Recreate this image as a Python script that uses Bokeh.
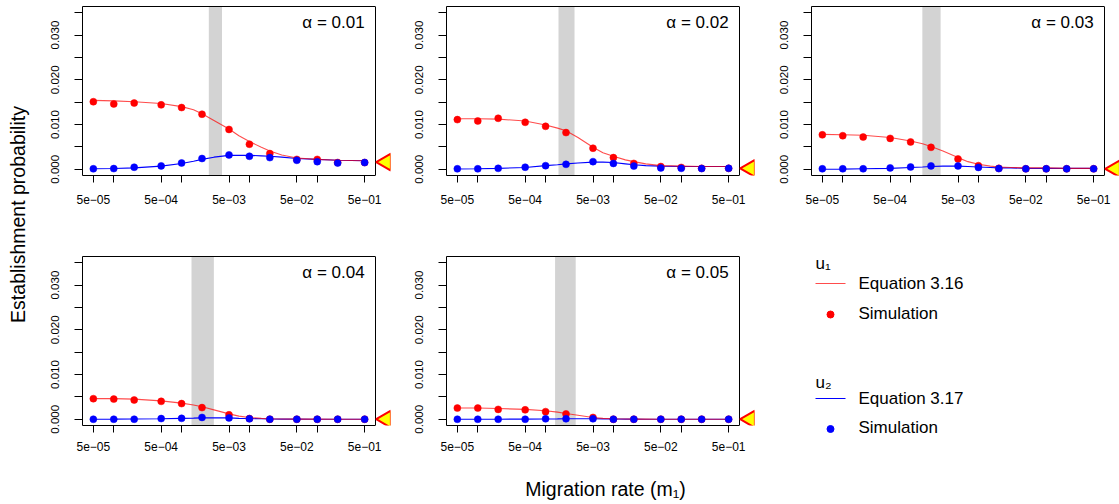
import math
from bokeh.plotting import figure
from bokeh.models import Range1d, FixedTicker, CustomJSTickFormatter, LinearAxis
from bokeh.layouts import row, column
from bokeh.core.properties import value
from bokeh.embed import file_html
from bokeh.resources import INLINE

FONT = "Liberation Sans"

# ---------------- data ----------------
ALPHA_LABELS = ["α = 0.01", "α = 0.02", "α = 0.03", "α = 0.04", "α = 0.05"]

X_TICKS = [5e-5, 1e-4, 5e-4, 1e-3, 5e-3, 1e-2, 5e-2, 1e-1, 5e-1]
X_TICK_LABELS = ["5e\u221205", "", "5e\u221204", "", "5e\u221203", "", "5e\u221202", "", "5e\u221201"]
Y_TICKS = [0.0, 0.005, 0.010, 0.015, 0.020, 0.025, 0.030, 0.035]
Y_TICK_LABELS = ["0.000", "", "0.010", "", "0.020", "", "0.030", ""]

# simulation migration rates
SIM_X = [5e-5, 1e-4, 2e-4, 5e-4, 1e-3, 2e-3, 5e-3, 1e-2, 2e-2, 5e-2, 1e-1, 2e-1, 5e-1]
# migration rates at which the equation curves were read
CURVE_X = [5e-5, 1e-4, 2e-4, 5e-4, 1e-3, 1.5e-3, 2e-3, 3e-3, 5e-3, 7e-3,
           1e-2, 1.5e-2, 2e-2, 3e-2, 5e-2, 1e-1, 2e-1, 5e-1]

# Equation 3.16 (u1) curves
EQ316_A01 = [0.0154, 0.0153, 0.0151, 0.0147, 0.0140, 0.0133, 0.0124, 0.0109, 0.0090, 0.0075,
             0.0062, 0.0049, 0.0041, 0.0032, 0.0025, 0.0022, 0.0020, 0.0019]
EQ316_A02 = [0.0113, 0.0113, 0.0112, 0.0108, 0.0099, 0.0092, 0.0086, 0.0071, 0.0049, 0.0037,
             0.0029, 0.0021, 0.0017, 0.0012, 0.0008, 0.0007, 0.0006, 0.0006]
EQ316_A03 = [0.0078, 0.0077, 0.0076, 0.0071, 0.0063, 0.0057, 0.0051, 0.0041, 0.0026, 0.0017,
             0.0011, 0.0007, 0.0005, 0.0004, 0.0003, 0.0003, 0.0002, 0.0002]
EQ316_A04 = [0.0046, 0.0046, 0.0045, 0.0041, 0.0036, 0.0032, 0.0028, 0.0021, 0.0012, 0.0007,
             0.0004, 0.0002, 0.0001, 0.00005, 0.00003, 0.00002, 0.00001, 0.00001]
EQ316_A05 = [0.0025, 0.0025, 0.0024, 0.0022, 0.0019, 0.0016, 0.0013, 0.0009, 0.0004, 0.0002,
             0.0001, 0.00005, 0.00003, 0.00002, 0.00001, 0.0, 0.0, 0.0]

# Equation 3.17 (u2) curves
EQ317_A01 = [0.0001, 0.00015, 0.0003, 0.0007, 0.0013, 0.0018, 0.0022, 0.0027, 0.0031, 0.0031,
             0.0031, 0.0030, 0.0029, 0.0027, 0.0024, 0.0022, 0.0020, 0.0019]
EQ317_A02 = [0.00005, 0.0001, 0.0002, 0.0004, 0.0008, 0.0010, 0.0012, 0.0014, 0.0016, 0.0016,
             0.0015, 0.0012, 0.0010, 0.0008, 0.0007, 0.0006, 0.0006, 0.0006]
EQ317_A03 = [0.0, 0.00003, 0.0001, 0.0002, 0.0004, 0.0005, 0.0006, 0.0007, 0.0007, 0.0006,
             0.0005, 0.0004, 0.0003, 0.0003, 0.0002, 0.0002, 0.0002, 0.0002]
EQ317_A04 = [0.0, 0.00002, 0.00005, 0.0001, 0.0002, 0.00025, 0.0003, 0.0003, 0.0003, 0.0002,
             0.00015, 0.0001, 0.00005, 0.00003, 0.00002, 0.00001, 0.0, 0.0]
EQ317_A05 = [0.0, 0.0, 0.00001, 0.00003, 0.00006, 0.00008, 0.0001, 0.0001, 0.0001, 0.00008,
             0.00005, 0.00003, 0.00002, 0.00001, 0.0, 0.0, 0.0, 0.0]

# Simulated u1
SIM1_A01 = [0.0151, 0.0146, 0.0148, 0.0144, 0.0138, 0.0123, 0.0089, 0.0056, 0.0035, 0.0022, 0.0022, 0.0015, 0.0015]
SIM1_A02 = [0.0111, 0.0108, 0.0114, 0.0105, 0.0096, 0.0082, 0.0047, 0.0026, 0.0013, 0.0006, 0.0004, 0.0002, 0.0002]
SIM1_A03 = [0.0077, 0.0075, 0.0072, 0.0069, 0.0061, 0.0049, 0.0023, 0.0008, 0.0002, 0.0001, 0.0001, 0.0001, 0.0001]
SIM1_A04 = [0.0046, 0.0045, 0.0043, 0.0040, 0.0035, 0.0026, 0.0010, 0.00015, 0.0, 0.0, 0.0, 0.0, 0.0]
SIM1_A05 = [0.0025, 0.0025, 0.0022, 0.0021, 0.0017, 0.0012, 0.0004, 0.0, 0.0, 0.0, 0.0, 0.0, 0.0]

# Simulated u2
SIM2_A01 = [0.0001, 0.00015, 0.00045, 0.00075, 0.0014, 0.0024, 0.0032, 0.0029, 0.0026, 0.0020, 0.0017, 0.0014, 0.0015]
SIM2_A02 = [0.0001, 0.0001, 0.0002, 0.00045, 0.0008, 0.0011, 0.0017, 0.0013, 0.0007, 0.0003, 0.0002, 0.00015, 0.0002]
SIM2_A03 = [0.0001, 0.0001, 0.0001, 0.0003, 0.0005, 0.00075, 0.00075, 0.0004, 0.00015, 0.0001, 0.0001, 0.0001, 0.0001]
SIM2_A04 = [0.0, 0.0, 0.0, 0.00015, 0.0002, 0.0004, 0.0003, 0.0001, 0.0, 0.0, 0.0, 0.0, 0.0]
SIM2_A05 = [0.0, 0.0, 0.0, 0.0, 0.0001, 0.0001, 0.0001, 0.0, 0.0, 0.0, 0.0, 0.0, 0.0]

# shaded migration-rate interval per panel
BAND_LO = [2.52e-3, 1.55e-3, 1.49e-3, 1.40e-3, 1.38e-3]
BAND_HI = [3.94e-3, 2.67e-3, 2.77e-3, 2.99e-3, 2.78e-3]

# limiting value (marked by the triangle at the right edge)
LIMIT = [0.0016, 0.0002, 0.0001, 0.0, 0.0]

EQ316 = [EQ316_A01, EQ316_A02, EQ316_A03, EQ316_A04, EQ316_A05]
EQ317 = [EQ317_A01, EQ317_A02, EQ317_A03, EQ317_A04, EQ317_A05]
SIM1 = [SIM1_A01, SIM1_A02, SIM1_A03, SIM1_A04, SIM1_A05]
SIM2 = [SIM2_A01, SIM2_A02, SIM2_A03, SIM2_A04, SIM2_A05]

# ---------------- geometry ----------------
BOX_W = 293
BOX_H = 169
EXT = 15
LO = math.log10(5e-5) - 0.16
HI_BOX = math.log10(0.5) + 0.16
DEC_PER_PX = (HI_BOX - LO) / BOX_W
HI = HI_BOX + EXT * DEC_PER_PX
Y0, Y1 = -0.0014, 0.0364

XFMT = """
let best = 0, d = 1e9;
for (let i = 0; i < tv.length; i++) {
  const dd = Math.abs(tick - tv[i]) / tv[i];
  if (dd < d) { d = dd; best = i; }
}
return lab[best];
"""
YFMT = """
let best = 0, d = 1e9;
for (let i = 0; i < tv.length; i++) {
  const dd = Math.abs(tick - tv[i]);
  if (dd < d) { d = dd; best = i; }
}
return lab[best];
"""


def panel(i, width, height, bl, br, bt, bb, xstand):
    p = figure(width=width, height=height, x_axis_type="log",
               x_range=Range1d(10 ** LO, 10 ** HI), y_range=Range1d(Y0, Y1),
               output_backend="svg", toolbar_location=None,
               min_border_left=bl, min_border_right=br,
               min_border_top=bt, min_border_bottom=bb)
    p.title.visible = False
    p.grid.visible = False
    p.outline_line_color = None
    p.background_fill_color = "white"
    p.border_fill_color = "white"

    xa = p.xaxis[0]
    xa.ticker = FixedTicker(ticks=X_TICKS, minor_ticks=[])
    xa.formatter = CustomJSTickFormatter(args=dict(tv=X_TICKS, lab=X_TICK_LABELS), code=XFMT)
    xa.bounds = (10 ** LO, 10 ** HI_BOX)
    xa.axis_line_color = "black"
    xa.major_tick_out = 7
    xa.major_tick_in = 0
    xa.minor_tick_line_color = None
    xa.major_label_standoff = xstand
    xa.major_label_text_font = FONT
    xa.major_label_text_font_size = "12px"
    xa.major_label_text_color = "black"

    ya = p.yaxis[0]
    ya.ticker = FixedTicker(ticks=Y_TICKS, minor_ticks=[])
    ya.formatter = CustomJSTickFormatter(args=dict(tv=Y_TICKS, lab=Y_TICK_LABELS), code=YFMT)
    ya.axis_line_color = "black"
    ya.major_tick_out = 8
    ya.major_tick_in = 0
    ya.minor_tick_line_color = None
    ya.major_label_orientation = "parallel"
    ya.major_label_standoff = 15
    ya.major_label_text_font = FONT
    ya.major_label_text_font_size = "11.5px"
    ya.major_label_text_color = "black"

    top = LinearAxis(ticker=FixedTicker(ticks=[], minor_ticks=[]),
                     major_label_text_font_size="0px", major_label_standoff=0,
                     major_tick_out=0, major_tick_in=0, minor_tick_out=0, minor_tick_in=0,
                     bounds=(10 ** LO, 10 ** HI_BOX), axis_line_color="black")
    p.add_layout(top, "above")

    # shaded interval
    p.quad(left=[BAND_LO[i]], right=[BAND_HI[i]], bottom=[Y0], top=[Y1],
           fill_color="#d3d3d3", line_color=None)
    # right edge of box
    p.segment(x0=[10 ** HI_BOX], y0=[Y0], x1=[10 ** HI_BOX], y1=[Y1],
              line_color="black", line_width=1)

    p.line(CURVE_X, EQ317[i], line_color="blue", line_width=1.1)
    p.line(CURVE_X, EQ316[i], line_color="red", line_width=1.1, line_alpha=0.7)
    p.scatter(SIM_X, SIM1[i], size=7, fill_color="red", line_color="red", line_width=0.5)
    p.scatter(SIM_X, SIM2[i], size=7, fill_color="blue", line_color="blue", line_width=0.5)

    xt = 10 ** (HI_BOX + 10.5 * DEC_PER_PX)
    p.scatter([xt], [LIMIT[i]], marker="triangle", size=17, angle=math.pi / 2,
              fill_color="yellow", line_color="red", line_width=2)

    p.text(x=[5e-1], y=[0.0328], text=[ALPHA_LABELS[i]], text_align="right",
           text_baseline="middle", text_font=value(FONT), text_font_size="17px",
           text_color="black")
    return p


def blank(width, height, x_range, y_range):
    p = figure(width=width, height=height, x_range=x_range, y_range=y_range,
               output_backend="svg", toolbar_location=None,
               x_axis_location=None, y_axis_location=None, min_border=0)
    p.title.visible = False
    p.grid.visible = False
    p.outline_line_color = None
    p.border_fill_color = "white"
    p.background_fill_color = "white"
    return p


def Y(v):
    """page pixel row (from top) -> data y used by the helper figures"""
    return 504 - v


ROW1_H = 250
ROW2_H = 213
BOT_H = 504 - ROW1_H - ROW2_H
LOW_H = ROW2_H + BOT_H

p1 = panel(0, 364, ROW1_H, 46, 10, 6, ROW1_H - 6 - BOX_H, 12)
p2 = panel(1, 364, ROW1_H, 46, 10, 6, ROW1_H - 6 - BOX_H, 12)
p3 = panel(2, 355, ROW1_H, 47, 0, 6, ROW1_H - 6 - BOX_H, 12)
p4 = panel(3, 364, ROW2_H, 46, 10, 6, ROW2_H - 6 - BOX_H, 9)
p5 = panel(4, 364, ROW2_H, 46, 10, 6, ROW2_H - 6 - BOX_H, 9)

# legend figure covers page x 764..1119, page y 250..504
leg = blank(355, LOW_H, Range1d(764, 1119), Range1d(0, LOW_H))
leg.text(x=[815], y=[Y(263)], text=["u\u2081"], text_font=value(FONT), text_font_size="17px",
         text_baseline="alphabetic", text_align="left")
leg.line([815, 845], [Y(283), Y(283)], line_color="red", line_alpha=0.7, line_width=1.1)
leg.text(x=[858], y=[Y(283)], text=["Equation 3.16"], text_font=value(FONT), text_font_size="17px",
         text_baseline="middle", text_align="left")
leg.scatter([830], [Y(314)], size=7, fill_color="red", line_color="red")
leg.text(x=[858], y=[Y(313)], text=["Simulation"], text_font=value(FONT), text_font_size="17px",
         text_baseline="middle", text_align="left")
leg.text(x=[815], y=[Y(381.5)], text=["u\u2082"], text_font=value(FONT), text_font_size="17px",
         text_baseline="alphabetic", text_align="left")
leg.line([815, 845], [Y(398), Y(398)], line_color="blue", line_width=1.1)
leg.text(x=[858], y=[Y(398)], text=["Equation 3.17"], text_font=value(FONT), text_font_size="17px",
         text_baseline="middle", text_align="left")
leg.scatter([830], [Y(428.5)], size=7, fill_color="blue", line_color="blue")
leg.text(x=[858], y=[Y(427)], text=["Simulation"], text_font=value(FONT), text_font_size="17px",
         text_baseline="middle", text_align="left")

# global axis titles
left = blank(36, 504, Range1d(0, 36), Range1d(0, 504))
left.text(x=[17], y=[Y(214)], text=["Establishment probability"], angle=math.pi / 2,
          text_font=value(FONT), text_font_size="19.5px", text_align="center", text_baseline="middle")

bottom = blank(728, BOT_H, Range1d(36, 764), Range1d(0, BOT_H))
bottom.text(x=[605], y=[Y(488)], text=["Migration rate (m\u2081)"],
            text_font=value(FONT), text_font_size="19.5px", text_align="center", text_baseline="middle")

layout = row(left, column(row(p1, p2, p3), row(column(row(p4, p5), bottom), leg)))

open("out.html", "w").write(file_html(layout, INLINE))
